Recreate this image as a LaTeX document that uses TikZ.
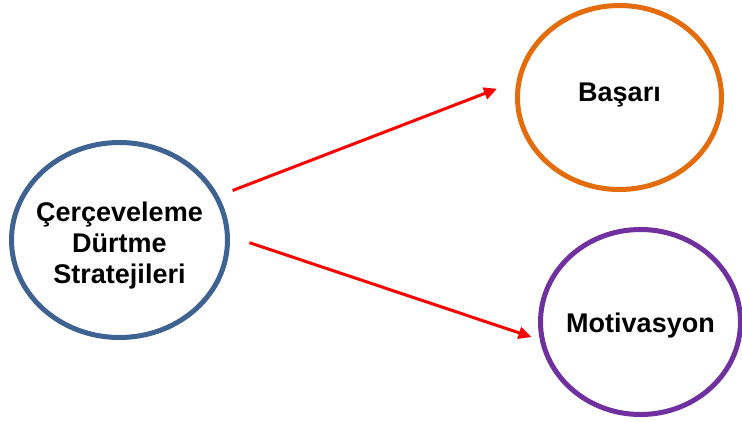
\documentclass[tikz,border=0pt]{standalone}
\usepackage{fontspec}
\setmainfont{Liberation Sans}
\usepackage{tikz}
\usetikzlibrary{positioning}
\usetikzlibrary{arrows.meta}
\usetikzlibrary{shapes}
\definecolor{myblue}{RGB}{62,98,145}
\definecolor{myorange}{RGB}{228,108,10}
\definecolor{mypurple}{RGB}{112,48,160}
\tikzset{main node/.style={ellipse,draw,fill=white,line width=5pt,inner sep=0pt},}
\tikzset{main text/.style={align=center,font=\fontsize{27}{31}\selectfont\bfseries},}

\begin{document}
\begin{tikzpicture}[x=1pt, y=-1pt, >={Triangle[length=13pt,width=12pt]}]
		\useasboundingbox (0,0) rectangle (742,421);
		\node[main node, draw=myblue, minimum width=216pt, minimum height=195pt] (cds) at (119.5,240) {};
	    \node[main node, draw=myorange, minimum width=204pt, minimum height=184pt] (bas) at (619.5,97.5) {};
	    \node[main node, draw=mypurple, minimum width=200pt, minimum height=185pt] (mot) at (640.5,322) {};
	    \node[main text] (cds txt) at (119.5,246) {Çerçeveleme\\Dürtme\\Stratejileri};
	    \node[main text] (bas txt) at (619.5,95) {Başarı};
	    \node[main text] (mot txt) at (640.5,326) {Motivasyon};
	
	    \path[draw,red,line width=3pt]
	    (cds.24) edge [->, shorten <=15pt, shorten >=21pt] (bas.171)
	    (cds.2) edge [->, shorten <=20.6pt, shorten >=8.8pt] (mot.190);
	\end{tikzpicture}
\end{document}
